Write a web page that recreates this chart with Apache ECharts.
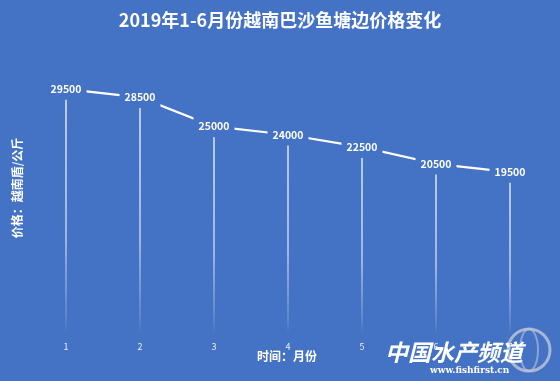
<!DOCTYPE html>
<html><head><meta charset="utf-8">
<script src="https://cdn.jsdelivr.net/npm/echarts@6/dist/echarts.min.js"></script>
<style>html,body{margin:0;padding:0;background:#4472c4}#c{width:560px;height:381px}</style>
</head><body><div id="c"></div>
<script>
const categories = ['1','2','3','4','5','6','7'];
const prices = [29500, 28500, 25000, 24000, 22500, 20500, 19500];
const titleText = '2019年1-6月份越南巴沙鱼塘边价格变化';
const xName = '时间：月份';
const yName = '价格：越南盾/公斤';

const chart = echarts.init(document.getElementById('c'));
const font = '"Noto Sans CJK SC", "Noto Sans", sans-serif';
chart.setOption({
  backgroundColor: '#4472c4',
  animation: false,
  title: {
    text: titleText, left: 'center', top: 6,
    textStyle: {color: '#fff', fontSize: 18, fontWeight: 'bold', fontFamily: font}
  },
  grid: {left: 29, right: 13, top: 60, bottom: 47},
  xAxis: {
    type: 'category', data: categories, boundaryGap: true,
    axisLine: {show: false}, axisTick: {show: false},
    axisLabel: {color: '#e8eefa', fontSize: 9, margin: 8, fontFamily: font}
  },
  yAxis: {
    type: 'value', min: 0, max: 33000,
    show: false
  },
  series: [
    {
      type: 'bar', data: prices, barWidth: 1.3, silent: true,
      itemStyle: {color: new echarts.graphic.LinearGradient(0,0,0,1,[
        {offset:0,color:'rgba(255,255,255,1)'},
        {offset:0.6,color:'rgba(255,255,255,0.75)'},
        {offset:0.93,color:'rgba(255,255,255,0.2)'},
        {offset:1,color:'rgba(255,255,255,0)'}])}
    },
    {
      type: 'line', data: prices, symbol: 'circle', symbolSize: 1, showSymbol: true, z: 5,
      itemStyle: {color: '#fff'},
      lineStyle: {color: '#fff', width: 2.2},
      label: {
        show: true, position: 'inside', color: '#fff', fontWeight: 'bold',
        fontSize: 10.5, fontFamily: font, backgroundColor: '#4472c4',
        padding: [5, 5, 6, 5]
      }
    }
  ],
  graphic: [
    {type: 'text', left: 257, top: 350,
     style: {text: xName, fill: '#fff', font: 'bold 12px ' + font}},
    {type: 'text', x: 17, y: 188, rotation: Math.PI / 2, originX: 0, originY: 0,
     style: {text: yName, fill: '#fff', font: 'bold 12px ' + font, align: 'center', verticalAlign: 'middle'}},
    {type: 'circle', shape: {cx: 529, cy: 350, r: 21},
     style: {fill: 'none', stroke: 'rgba(200,205,215,0.75)', lineWidth: 3}},
    {type: 'ellipse', shape: {cx: 529, cy: 350, rx: 9, ry: 21},
     style: {fill: 'none', stroke: 'rgba(200,205,215,0.55)', lineWidth: 2}},
    {type: 'text', x: 385, y: 341,
     style: {text: '中国水产频道', fill: '#fff', font: 'italic bold 23px ' + font}},
    {type: 'text', x: 430, y: 366,
     style: {text: 'www.fishfirst.cn', fill: '#fff', font: 'bold 9px "DejaVu Serif", serif'}}
  ]
});
</script></body></html>
